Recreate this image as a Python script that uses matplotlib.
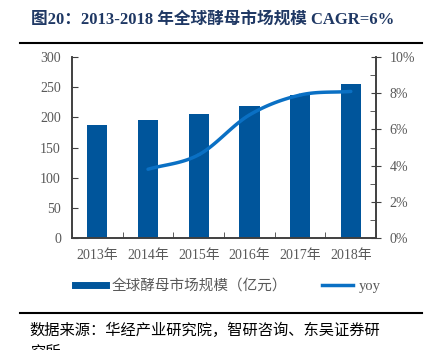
import numpy as np
import matplotlib
matplotlib.use("Agg")
import matplotlib.pyplot as plt
from matplotlib.lines import Line2D
from matplotlib.ticker import MultipleLocator, FuncFormatter

plt.rcParams['font.family'] = ['Liberation Serif', 'Noto Sans CJK SC']

years = ["2013年", "2014年", "2015年", "2016年", "2017年", "2018年"]
market = [188, 196, 205, 219, 237, 255]          # 亿元
yoy_years = ["2014年", "2015年", "2016年", "2017年", "2018年"]
yoy = [3.8, 4.6, 6.8, 7.9, 8.1]                  # %

bar_color = "#00559B"
line_color = "#0A70C4"
axis_color = "#404040"
label_color = "#595959"


def smooth(x, y, n=30):
    # catmull-rom curve through the data points (like Excel smoothed line)
    x = np.asarray(x, float)
    y = np.asarray(y, float)
    px = np.concatenate([[2 * x[0] - x[1]], x, [2 * x[-1] - x[-2]]])
    py = np.concatenate([[2 * y[0] - y[1]], y, [2 * y[-1] - y[-2]]])
    xs, ys = [], []
    t = np.linspace(0, 1, n)
    for i in range(1, len(px) - 2):
        for p, out in ((px, xs), (py, ys)):
            p0, p1, p2, p3 = p[i - 1], p[i], p[i + 1], p[i + 2]
            out.extend(0.5 * (2 * p1 + (-p0 + p2) * t
                              + (2 * p0 - 5 * p1 + 4 * p2 - p3) * t ** 2
                              + (-p0 + 3 * p1 - 3 * p2 + p3) * t ** 3))
    return np.array(xs), np.array(ys)


fig = plt.figure(figsize=(4.26, 3.5), dpi=100)
ax = fig.add_axes([0.169, 0.32, 0.714, 0.517])
ax2 = ax.twinx()

x = np.arange(len(years))
ax.bar(x, market, width=0.4, color=bar_color, zorder=2)
xl = [years.index(y) for y in yoy_years]
sx, sy = smooth(xl, yoy)
ax2.plot(sx, sy, color=line_color, lw=2.5, solid_capstyle='round')

ax.set_xlim(-0.5, len(years) - 0.5)
ax.set_ylim(0, 300)
ax.yaxis.set_major_locator(MultipleLocator(50))
ax2.set_ylim(0, 10)
ax2.yaxis.set_major_locator(MultipleLocator(2))
ax2.yaxis.set_minor_locator(MultipleLocator(1))
ax2.yaxis.set_major_formatter(FuncFormatter(lambda v, p: f"{v:.0f}%"))

ax.set_xticks(x)
ax.set_xticklabels(years)
ax.set_xticks(np.arange(len(years) + 1) - 0.5, minor=True)
ax.tick_params(axis='x', which='major', length=0, pad=8, labelsize=10, labelcolor=label_color)
ax.tick_params(axis='x', which='minor', direction='in', length=4, color=axis_color)
ax.tick_params(axis='y', direction='in', length=4, color=axis_color, labelsize=10,
               labelcolor=label_color, pad=8)
ax2.tick_params(axis='y', which='major', direction='inout', length=7, color=axis_color,
                labelsize=10, labelcolor=label_color, pad=6)
ax2.tick_params(axis='y', which='minor', direction='in', length=4, color=axis_color)

for a in (ax, ax2):
    a.spines['top'].set_visible(False)
    for s in ('left', 'right', 'bottom'):
        a.spines[s].set_color(axis_color)
        a.spines[s].set_linewidth(1.2)

handles = [Line2D([], [], color=bar_color, lw=5),
           Line2D([], [], color=line_color, lw=2.5)]
fig.legend(handles, ["全球酵母市场规模（亿元）", "yoy"], loc='center',
           bbox_to_anchor=(0.535, 0.183), ncol=2, frameon=False,
           labelcolor=label_color, handlelength=2.1, handletextpad=0.4, columnspacing=2.4,
           prop={'family': ['Liberation Serif', 'Noto Sans CJK SC'], 'size': 10.5})

fig.text(0.5, 0.943, "图20：2013-2018 年全球酵母市场规模 CAGR=6%", ha='center', va='center',
         fontsize=12, fontweight='bold', color="#1F3864")
fig.add_artist(Line2D([0.047, 0.99], [0.877, 0.877], color='black', lw=1.5))
fig.add_artist(Line2D([0.047, 0.99], [0.106, 0.106], color='black', lw=1.5))
fig.text(0.07, 0.057, "数据来源：华经产业研究院，智研咨询、东吴证券研", ha='left', va='center',
         fontsize=11, color='black')
fig.text(0.07, -0.008, "究所", ha='left', va='center', fontsize=11, color='black')

fig.savefig("out.png", dpi=100)
